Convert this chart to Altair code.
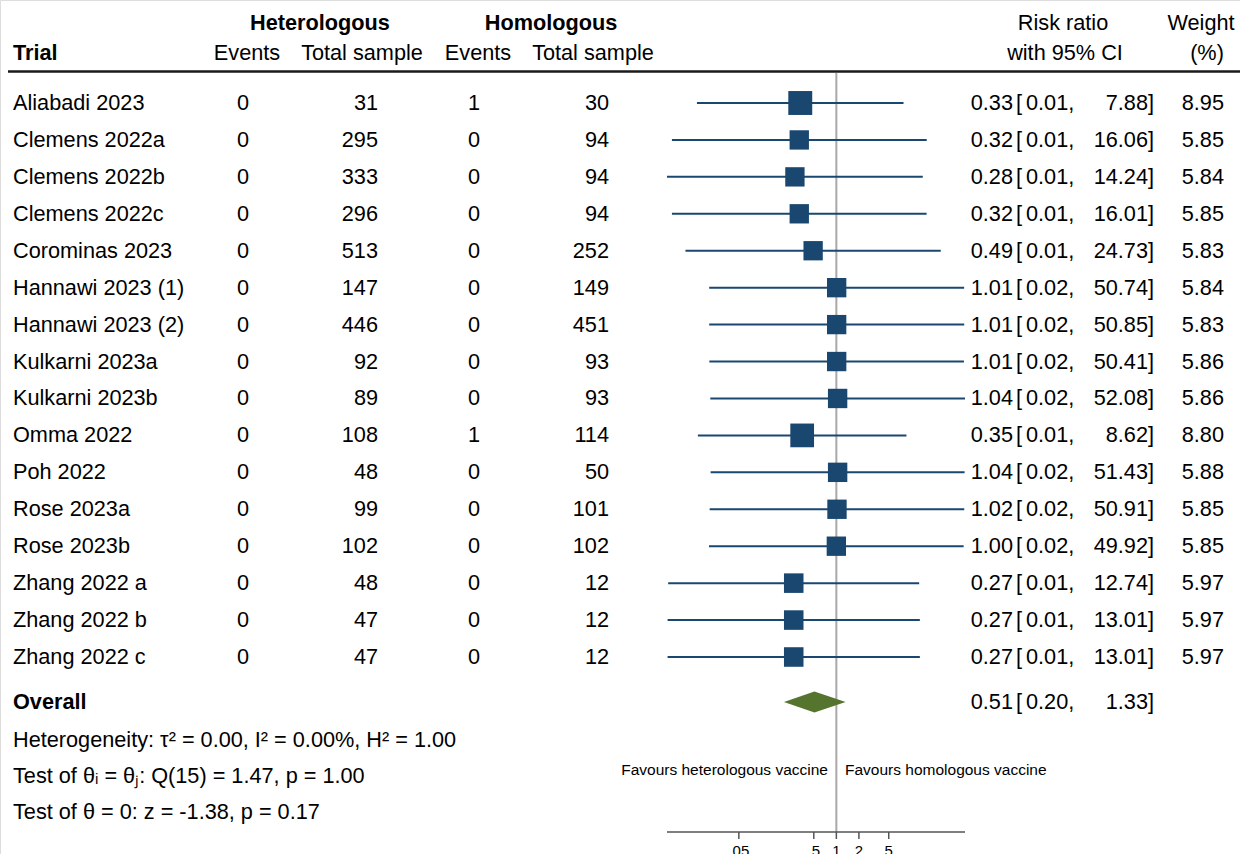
import altair as alt
import pandas as pd

# ---- study-level data -------------------------------------------------------
trials = [
    "Aliabadi 2023", "Clemens 2022a", "Clemens 2022b", "Clemens 2022c",
    "Corominas 2023", "Hannawi 2023 (1)", "Hannawi 2023 (2)", "Kulkarni 2023a",
    "Kulkarni 2023b", "Omma 2022", "Poh 2022", "Rose 2023a", "Rose 2023b",
    "Zhang 2022 a", "Zhang 2022 b", "Zhang 2022 c",
]
het_events = [0, 0, 0, 0, 0, 0, 0, 0, 0, 0, 0, 0, 0, 0, 0, 0]
het_total = [31, 295, 333, 296, 513, 147, 446, 92, 89, 108, 48, 99, 102, 48, 47, 47]
hom_events = [1, 0, 0, 0, 0, 0, 0, 0, 0, 1, 0, 0, 0, 0, 0, 0]
hom_total = [30, 94, 94, 94, 252, 149, 451, 93, 93, 114, 50, 101, 102, 12, 12, 12]
risk_ratio = [0.33, 0.32, 0.28, 0.32, 0.49, 1.01, 1.01, 1.01, 1.04, 0.35, 1.04, 1.02, 1.00, 0.27, 0.27, 0.27]
ci_low = [0.0138, 0.0064, 0.0055, 0.0064, 0.0097, 0.0201, 0.0201, 0.0202, 0.0208, 0.0142,
          0.0210, 0.0204, 0.0200, 0.0057, 0.0056, 0.0056]
ci_high = [7.88, 16.06, 14.24, 16.01, 24.73, 50.74, 50.85, 50.41, 52.08, 8.62, 51.43, 50.91,
           49.92, 12.74, 13.01, 13.01]
weight = [8.95, 5.85, 5.84, 5.85, 5.83, 5.84, 5.83, 5.86, 5.86, 8.80, 5.88, 5.85, 5.85, 5.97, 5.97, 5.97]

# pooled estimate
overall_rr = 0.51
overall_low = 0.20
overall_high = 1.33

# axis ticks
tick_values = [0.05, 0.5, 1, 2, 5]
tick_labels = [".05", ".5", "1", "2", "5"]

# ---- styling / layout -------------------------------------------------------
FONT = "Liberation Sans"
FS = 21.7
SMALL = 15.5
NAVY = "#1a476f"
GREEN = "#55752f"
OVERALL_ROW = 16.22
DIAMOND_HALF = 0.284

n = len(trials)
df = pd.DataFrame({
    "row": list(range(n)),
    "trial": trials,
    "he": het_events,
    "ht": het_total,
    "oe": hom_events,
    "ot": hom_total,
    "rr": risk_ratio,
    "lo": ci_low,
    "hi": ci_high,
    "w": weight,
})
df["rr_txt"] = df["rr"].map(lambda v: f"{v:.2f}")
df["lo_txt"] = df["lo"].map(lambda v: f"{v:.2f},")
df["hi_txt"] = df["hi"].map(lambda v: f"{v:.2f}]")
df["w_txt"] = df["w"].map(lambda v: f"{v:.2f}")
df["br"] = "["

ov = pd.DataFrame({
    "row": [OVERALL_ROW],
    "rr_txt": [f"{overall_rr:.2f}"],
    "lo_txt": [f"{overall_low:.2f},"],
    "hi_txt": [f"{overall_high:.2f}]"],
    "br": ["["],
})
diamond = pd.DataFrame({
    "x": [overall_low, overall_rr, overall_high],
    "y": [OVERALL_ROW, OVERALL_ROW - DIAMOND_HALF, OVERALL_ROW],
    "y2": [OVERALL_ROW, OVERALL_ROW + DIAMOND_HALF, OVERALL_ROW],
})

x_min = min(ci_low)
x_max = max(ci_high)
xs = alt.Scale(type="log", domain=[x_min, x_max], range=[667, 965], nice=False)
ys = alt.Scale(domain=[0, 15], range=[103, 657], nice=False, zero=False)

base = alt.Chart(df)

def col_text(field, x, align, data=None):
    src = alt.Chart(data) if data is not None else base
    return src.mark_text(align=align, baseline="middle", font=FONT, fontSize=FS, color="black").encode(
        x=alt.value(x),
        y=alt.Y("row:Q", scale=ys, axis=None),
        text=f"{field}:N",
    )

def label(txt, x, y, align="left", bold=False, size=FS):
    return alt.Chart(pd.DataFrame({"t": [txt]})).mark_text(
        align=align, baseline="middle", font=FONT, fontSize=size,
        fontWeight="bold" if bold else "normal", color="black",
    ).encode(x=alt.value(x), y=alt.value(y), text="t:N")

# confidence intervals
ci = base.mark_rule(color=NAVY, strokeWidth=2).encode(
    x=alt.X("lo:Q", scale=xs, axis=None),
    x2="hi:Q",
    y=alt.Y("row:Q", scale=ys, axis=None),
)
squares = base.mark_square(color=NAVY, opacity=1, filled=True).encode(
    x=alt.X("rr:Q", scale=xs, axis=None),
    y=alt.Y("row:Q", scale=ys, axis=None),
    size=alt.Size("w:Q", scale=alt.Scale(domain=[0, 10], range=[0, 640]), legend=None),
)
diam = alt.Chart(diamond).mark_area(color=GREEN, opacity=1).encode(
    x=alt.X("x:Q", scale=xs, axis=None),
    y=alt.Y("y:Q", scale=ys, axis=None),
    y2="y2:Q",
)

# line of no effect
null_line = alt.Chart(pd.DataFrame({"x": [1]})).mark_rule(color="#a8a8a8", strokeWidth=2).encode(
    x=alt.X("x:Q", scale=xs, axis=None), y=alt.value(73), y2=alt.value(832)
)

# hand-built x axis
axis_df = pd.DataFrame({"a": [x_min], "b": [x_max]})
axis_line = alt.Chart(axis_df).mark_rule(color="#555555", strokeWidth=1.5).encode(
    x=alt.X("a:Q", scale=xs, axis=None), x2="b:Q", y=alt.value(832)
)
ticks_df = pd.DataFrame({"v": tick_values, "lab": tick_labels})
ticks = alt.Chart(ticks_df).mark_rule(color="#555555", strokeWidth=1.5).encode(
    x=alt.X("v:Q", scale=xs, axis=None), y=alt.value(832), y2=alt.value(839)
)
tick_text = alt.Chart(ticks_df).mark_text(
    align="center", baseline="alphabetic", font=FONT, fontSize=15, color="black"
).encode(x=alt.X("v:Q", scale=xs, axis=None), y=alt.value(856), text="lab:N")

# header rule
header_rule = alt.Chart(pd.DataFrame({"a": [0]})).mark_rule(color="#1a1a1a", strokeWidth=2.5).encode(
    x=alt.value(8), x2=alt.value(1240), y=alt.value(71.5)
)

layers = [
    null_line, ci, squares, diam, axis_line, ticks, tick_text, header_rule,
    # table columns
    col_text("trial", 13, "left"),
    col_text("he", 249, "right"),
    col_text("ht", 378, "right"),
    col_text("oe", 480, "right"),
    col_text("ot", 609, "right"),
    col_text("rr_txt", 1013, "right"),
    col_text("br", 1016, "left"),
    col_text("lo_txt", 1026, "left"),
    col_text("hi_txt", 1154, "right"),
    col_text("w_txt", 1224, "right"),
    col_text("rr_txt", 1013, "right", ov),
    col_text("br", 1016, "left", ov),
    col_text("lo_txt", 1026, "left", ov),
    col_text("hi_txt", 1154, "right", ov),
    # headers
    label("Heterologous", 320, 23, "center", bold=True),
    label("Homologous", 551, 23, "center", bold=True),
    label("Trial", 13, 53, "left", bold=True),
    label("Events", 247, 53, "center"),
    label("Total sample", 362, 53, "center"),
    label("Events", 478, 53, "center"),
    label("Total sample", 593, 53, "center"),
    label("Risk ratio", 1063, 23, "center"),
    label("with 95% CI", 1065, 53, "center"),
    label("Weight", 1201, 23, "center"),
    label("(%)", 1207, 53, "center"),
    # summary block
    label("Overall", 13, 702, "left", bold=True),
    label("Heterogeneity: \u03c4\u00b2 = 0.00, I\u00b2 = 0.00%, H\u00b2 = 1.00", 13, 740),
    label("Test of \u03b8\u1d62 = \u03b8\u2c7c: Q(15) = 1.47, p = 1.00", 13, 776),
    label("Test of \u03b8 = 0: z = -1.38, p = 0.17", 13, 812),
    label("Favours heterologous vaccine", 828, 770, "right", size=SMALL),
    label("Favours homologous vaccine", 845, 770, "left", size=SMALL),
]

chart = alt.layer(*layers).properties(
    width=1240, height=854, autosize=alt.AutoSizeParams(type="none"), padding=0
).configure_view(stroke=None).configure(background="white")

chart.save("out.html", embed_options={"renderer": "svg", "actions": False})
